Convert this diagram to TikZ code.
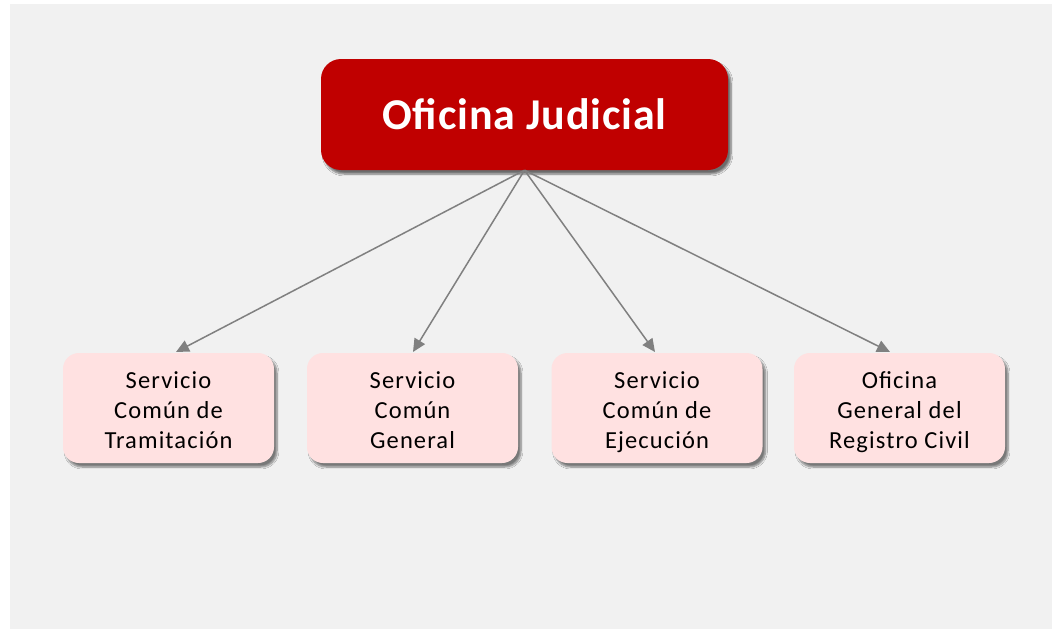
\documentclass[tikz,border=0pt]{standalone}
\usepackage{fontspec}
\setmainfont{Carlito}
\newfontfamily\boxfont[LetterSpace=4.5]{Carlito}
\newfontfamily\topfont[LetterSpace=2]{Carlito}
\usetikzlibrary{arrows.meta,shadows,shadows.blur}
\definecolor{bgc}{HTML}{F1F1F1}
\definecolor{ojred}{HTML}{C00000}
\definecolor{pinkc}{HTML}{FFE1E1}
\definecolor{arrc}{HTML}{808080}
\newcommand\firstln{\rule{0pt}{29pt}}
\tikzset{
  topbox/.style={fill=ojred, rounded corners=20pt, minimum width=407pt, minimum height=111pt,
    text=white, font=\topfont\fontsize{44}{50}\selectfont\bfseries, inner sep=0pt,
    blur shadow={shadow xshift=3pt, shadow yshift=-4pt, shadow blur steps=6, shadow blur extra rounding=2pt, shadow opacity=55}},
  subbox/.style={fill=pinkc, rounded corners=16pt, minimum width=211pt, minimum height=110pt,
    text=black, font=\boxfont\fontsize{24.5}{30}\selectfont, align=center, inner sep=0pt,
    blur shadow={shadow xshift=3pt, shadow yshift=-4pt, shadow blur steps=6, shadow blur extra rounding=2pt, shadow opacity=50}},
  conn/.style={draw=arrc, line width=1.5pt, -{Triangle[length=13pt,width=12pt]}}
}
\begin{document}
\begin{tikzpicture}[x=1pt,y=-1pt]
\fill[white] (0,0) rectangle (1052,629);
\fill[bgc] (10,4) rectangle (1052,629);
\useasboundingbox (0,0) rectangle (1052,629);
\node[topbox] (oj) at (524.5,114.5) {\raisebox{-3pt}{Oficina Judicial}};
\node[subbox] (b1) at (168.5,408) {\firstln Servicio\\Común de\\Tramitación\strut};
\node[subbox] (b2) at (412.5,408) {\firstln Servicio\\Común\\General\strut};
\node[subbox] (b3) at (657,408) {\firstln Servicio\\Común de\\Ejecución\strut};
\node[subbox] (b4) at (899.5,408) {\firstln Oficina\\General del\\Registro Civil\strut};
\coordinate (e1) at (176,352);
\coordinate (e2) at (413,352);
\coordinate (e3) at (655,352);
\coordinate (e4) at (890,352);
\draw[conn] (oj.south) -- (e1);
\draw[conn] (oj.south) -- (e2);
\draw[conn] (oj.south) -- (e3);
\draw[conn] (oj.south) -- (e4);
\end{tikzpicture}
\end{document}
